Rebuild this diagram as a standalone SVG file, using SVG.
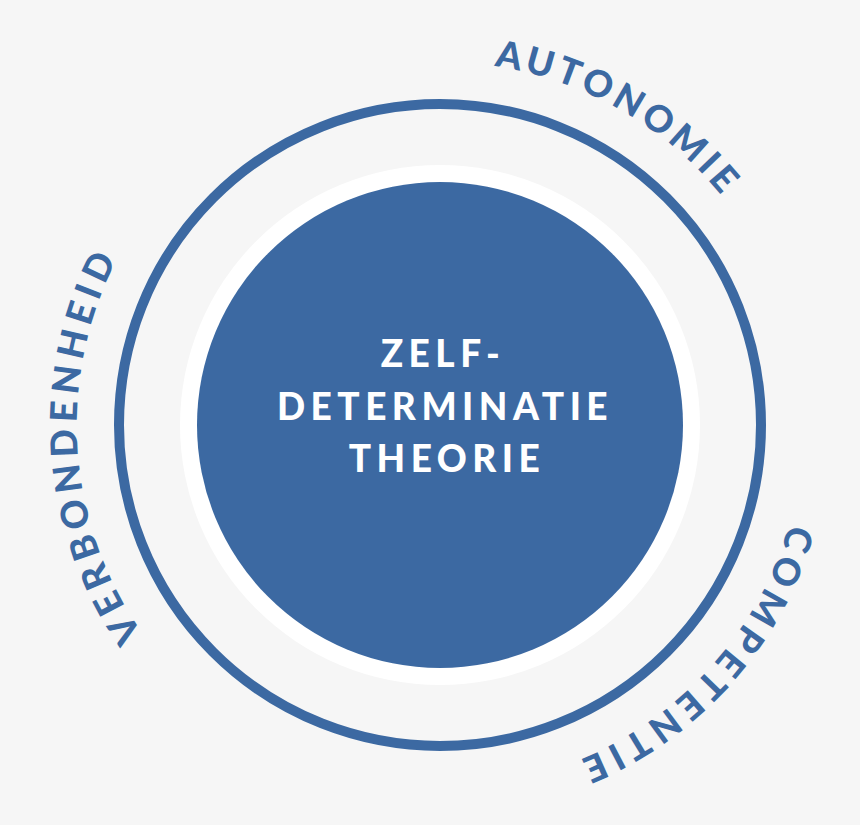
<svg xmlns="http://www.w3.org/2000/svg" width="860" height="825" viewBox="0 0 860 825">
<style>
.lbl{font-family:Lato,"Open Sans","Liberation Sans",sans-serif;font-weight:900;font-size:37px;}
.arc{fill:#3c69a2;}
.ctr{fill:#ffffff;letter-spacing:5.5px;text-anchor:middle;}
</style>
<defs>
<path id="pAut" d="M161.9,191.7 A363,363 0 0 1 781.1,549.2"/>
<path id="pVer" d="M398.9,785.7 A363,363 0 0 1 355.3,72.0"/>
<path id="pCom" d="M726.0,201.5 A363,363 0 0 1 247.6,732.8"/>
</defs>
<rect x="0" y="0" width="860" height="825" fill="#f6f6f6"/>
<g id="ring">
<circle cx="440" cy="425" r="321" fill="none" stroke="#3c69a2" stroke-width="10"/>
</g>
<g id="core">
<circle cx="440" cy="425" r="260" fill="#ffffff"/>
<circle cx="440" cy="425" r="243" fill="#3c69a2"/>
<text class="lbl ctr" x="443" y="367">ZELF-</text>
<text class="lbl ctr" x="445" y="420">DETERMINATIE</text>
<text class="lbl ctr" x="447" y="472">THEORIE</text>
</g>
<g id="autonomie">
<text class="lbl arc" letter-spacing="4.5"><textPath href="#pAut" startOffset="50%" text-anchor="middle">AUTONOMIE</textPath></text>
</g>
<g id="verbondenheid">
<text class="lbl arc" letter-spacing="6"><textPath href="#pVer" startOffset="50%" text-anchor="middle">VERBONDENHEID</textPath></text>
</g>
<g id="competentie">
<text class="lbl arc" letter-spacing="6.5"><textPath href="#pCom" startOffset="50%" text-anchor="middle">COMPETENTIE</textPath></text>
</g>
<g id="connectors"></g>
</svg>
